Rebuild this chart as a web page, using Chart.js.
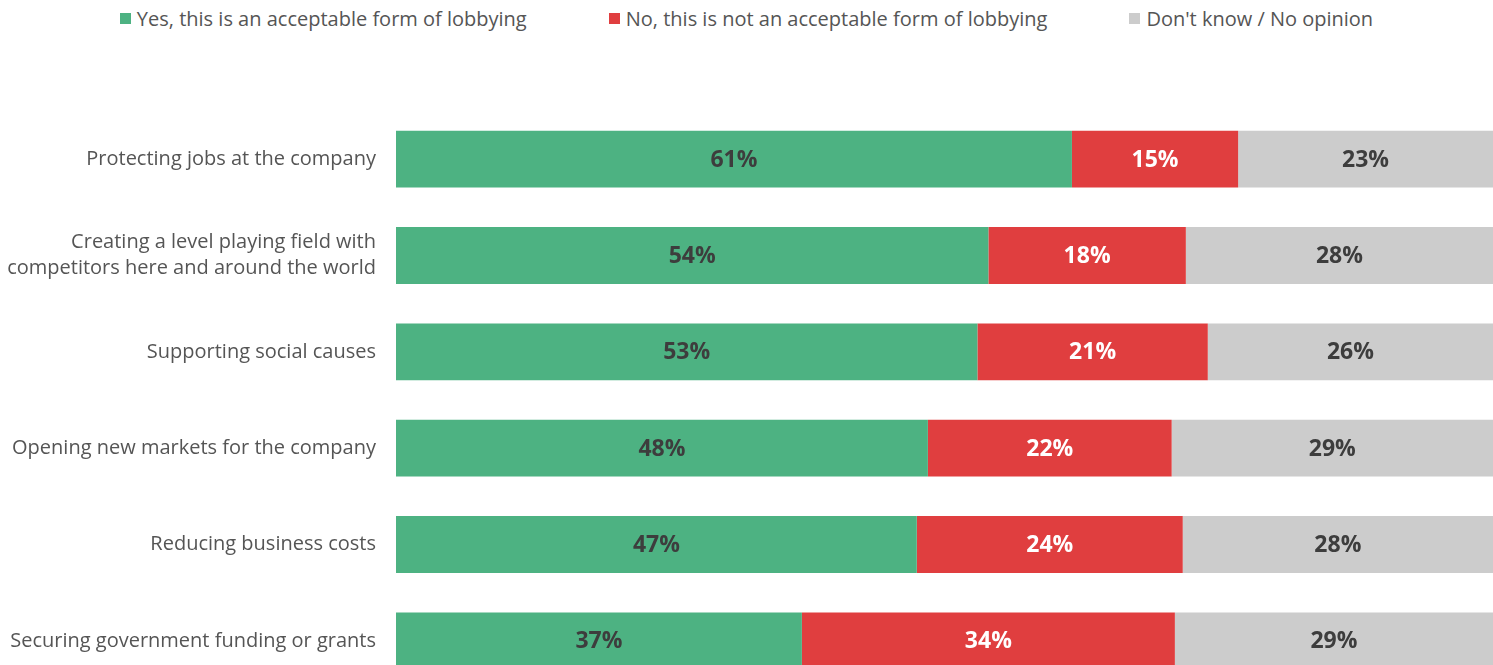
<!DOCTYPE html>
<html>
<head>
<meta charset="utf-8">
<script src="https://cdn.jsdelivr.net/npm/chart.js@4"></script>
<style>
  html, body { margin: 0; padding: 0; background: #fff; overflow: hidden; }
  #wrap { position: relative; width: 1493px; height: 665px; overflow: hidden; }
  #legend { position: absolute; top: 5px; left: 0; width: 1493px; display: flex; justify-content: center;
            font-family: "Open Sans", sans-serif; font-size: 20px; color: #555; }
  #legend span.item { display: inline-flex; align-items: center; margin: 0 41px; }
  #legend span.box { width: 11px; height: 11px; margin-right: 6px; display: inline-block; }
  canvas { position: absolute; top: 0; left: 0; }
</style>
</head>
<body>
<div id="wrap">
  <div id="legend"></div>
  <canvas id="barchart" width="1493" height="714"></canvas>
</div>
<script>
const categories = [
    "Protecting jobs at the company",
    ["Creating a level playing field with", "competitors here and around the world"],
    "Supporting social causes",
    "Opening new markets for the company",
    "Reducing business costs",
    "Securing government funding or grants"
];
const yesValues = [61, 54, 53, 48, 47, 37];
const noValues = [15, 18, 21, 22, 24, 34];
const dkValues = [23, 28, 26, 29, 28, 29];
const seriesNames = ["Yes, this is an acceptable form of lobbying", "No, this is not an acceptable form of lobbying", "Don't know / No opinion"];
const seriesColors = ["#4db282", "#e03e3f", "#cccccc"];
const labelColors = ["#3d3d3d", "#ffffff", "#3d3d3d"];

// rows are drawn as shares of their own total so every bar fills the width
const totals = yesValues.map((v, i) => v + noValues[i] + dkValues[i]);
const share = arr => arr.map((v, i) => v / totals[i] * 100);
const raw = [yesValues, noValues, dkValues];

// html legend
const legendEl = document.getElementById("legend");
seriesNames.forEach((name, i) => {
    const item = document.createElement("span");
    item.className = "item";
    const box = document.createElement("span");
    box.className = "box";
    box.style.background = seriesColors[i];
    item.appendChild(box);
    item.appendChild(document.createTextNode(name));
    legendEl.appendChild(item);
});

const valueLabels = {
    id: "valueLabels",
    afterDatasetsDraw(chart) {
        const ctx = chart.ctx;
        ctx.save();
        ctx.font = "bold 23px 'Open Sans', sans-serif";
        ctx.textAlign = "center";
        ctx.textBaseline = "middle";
        chart.data.datasets.forEach((ds, di) => {
            chart.getDatasetMeta(di).data.forEach((bar, i) => {
                const p = bar.getProps(["x", "y", "base"], true);
                ctx.fillStyle = labelColors[di];
                ctx.fillText(raw[di][i] + "%", (p.x + p.base) / 2, p.y + 1);
            });
        });
        ctx.restore();
    }
};

const CHART = document.getElementById("barchart");
let barchart = new Chart(CHART, {
    type: 'bar',
    data: {
        labels: categories,
        datasets: [
            { label: seriesNames[0], data: share(yesValues), backgroundColor: seriesColors[0] },
            { label: seriesNames[1], data: share(noValues), backgroundColor: seriesColors[1] },
            { label: seriesNames[2], data: share(dkValues), backgroundColor: seriesColors[2] }
        ]
    },
    options: {
        indexAxis: 'y',
        responsive: false,
        animation: false,
        barPercentage: 0.59,
        categoryPercentage: 1.0,
        layout: { padding: { top: 111, right: 0, bottom: 0, left: 0 } },
        plugins: {
            legend: { display: false },
            tooltip: { enabled: false }
        },
        scales: {
            x: { stacked: true, min: 0, max: 100, display: false },
            y: {
                stacked: true,
                grid: { display: false },
                border: { display: false },
                afterFit(scale) { scale.width = 396; },
                ticks: {
                    padding: 12,
                    color: "#555",
                    font: { family: "'Open Sans', sans-serif", size: 20, lineHeight: 1.3 }
                }
            }
        }
    },
    plugins: [valueLabels]
});
</script>
</body>
</html>
